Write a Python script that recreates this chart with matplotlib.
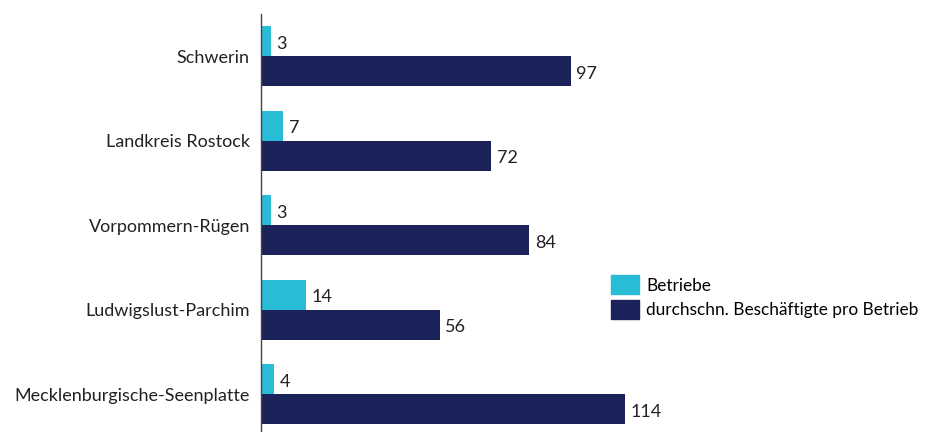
import matplotlib
matplotlib.use("Agg")
import matplotlib.pyplot as plt
import numpy as np
from matplotlib.patches import Patch

categories = ["Schwerin", "Landkreis Rostock", "Vorpommern-Rügen", "Ludwigslust-Parchim", "Mecklenburgische-Seenplatte"]
betriebe = [3, 7, 3, 14, 4]
beschaeftigte = [97, 72, 84, 56, 114]
series_names = ["Betriebe", "durchschn. Beschäftigte pro Betrieb"]

c1 = "#29BCD6"
c2 = "#1B2259"

plt.rcParams['font.family'] = ['Lato', 'DejaVu Sans']
fs = 13
lfs = 12.4

fig = plt.figure(figsize=(9.28, 4.32), dpi=100)
ax = fig.add_axes([261/928, 0, 639/928, 418/432])

y = np.arange(len(categories))
h = 0.355
b1 = ax.barh(y - h/2, betriebe, height=h, color=c1)
b2 = ax.barh(y + h/2, beschaeftigte, height=h, color=c2)

for bars, vals in ((b1, betriebe), (b2, beschaeftigte)):
    for bar, v in zip(bars, vals):
        ax.annotate(str(v), (bar.get_width(), bar.get_y() + bar.get_height()/2),
                    xytext=(4, -2), textcoords="offset points", va="center", ha="left",
                    fontsize=fs, color="#222222")

ax.set_xlim(0, 200)
ax.set_ylim(4.45, -0.5)
ax.set_yticks(y)
ax.set_yticklabels(categories, fontsize=fs, color="#222222")
ax.tick_params(axis='y', length=0, pad=8)
ax.set_xticks([])
for s in ("top", "right", "bottom"):
    ax.spines[s].set_visible(False)
ax.spines["left"].set_color("#444444")
ax.spines["left"].set_linewidth(1)

handles = [Patch(color=c1), Patch(color=c2)]
fig.legend(handles, series_names, loc="upper left", bbox_to_anchor=(608/928, 1 - 272/432),
           frameon=False, fontsize=lfs, handlelength=1.6, handleheight=1.3,
           handletextpad=0.4, labelspacing=0.35, borderaxespad=0, borderpad=0.2)

fig.savefig("out.png", dpi=100)
